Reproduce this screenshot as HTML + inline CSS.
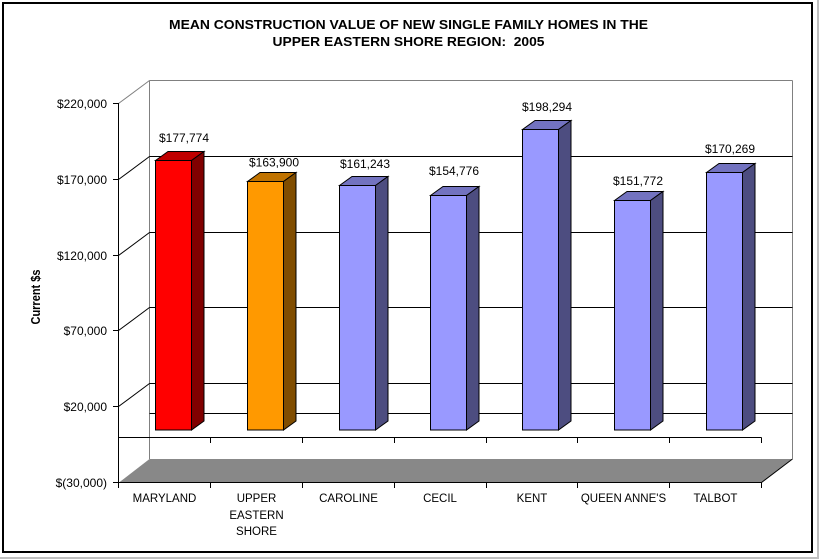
<!DOCTYPE html>
<html>
<head>
<meta charset="utf-8">
<style>
html,body{margin:0;padding:0;background:#fff;}
svg{display:block;}
text{font-family:"Liberation Sans",Arial,sans-serif;fill:#000;}
</style>
</head>
<body>
<svg width="819" height="559" viewBox="0 0 819 559" xmlns="http://www.w3.org/2000/svg">
  <rect x="0" y="0" width="819" height="559" fill="#fff"/>
  <!-- outer frame -->
  <rect x="817" y="0" width="2" height="559" fill="#c0c0c0"/>
  <rect x="0" y="557" width="819" height="2" fill="#c0c0c0"/>
  <rect x="3" y="3" width="809" height="549" fill="none" stroke="#000" stroke-width="2"/>

  <!-- title -->
  <text x="408.5" y="29" font-size="13" font-weight="bold" text-anchor="middle" textLength="479" lengthAdjust="spacingAndGlyphs">MEAN CONSTRUCTION VALUE OF NEW SINGLE FAMILY HOMES IN THE</text>
  <text x="408.5" y="46" font-size="13" font-weight="bold" text-anchor="middle" textLength="272" lengthAdjust="spacingAndGlyphs" xml:space="preserve">UPPER EASTERN SHORE REGION:  2005</text>

  <!-- y axis title -->
  <g transform="translate(35.5,297) rotate(-90)">
    <text x="0" y="4.5" font-size="12.5" font-weight="bold" text-anchor="middle" textLength="55" lengthAdjust="spacingAndGlyphs">Current $s</text>
  </g>

  <!-- floor -->
  <polygon points="119,482.5 149.5,459 792.5,459 761.5,482.5" fill="#888888"/>
  <line x1="761.5" y1="482.5" x2="792.5" y2="459" stroke="#000" stroke-width="1"/>

  <!-- back wall -->
  <g stroke="#808080" stroke-width="1" fill="none">
    <line x1="149.5" y1="80.5" x2="149.5" y2="459"/>
    <line x1="149.5" y1="80.5" x2="792.5" y2="80.5"/>
    <line x1="792.5" y1="80.5" x2="792.5" y2="459"/>
    <line x1="118.5" y1="103.5" x2="149.5" y2="80.5"/>
  </g>
  <!-- gridlines -->
  <g stroke="#000" stroke-width="1">
    <line x1="149.5" y1="156.5" x2="792.5" y2="156.5"/>
    <line x1="149.5" y1="232.5" x2="792.5" y2="232.5"/>
    <line x1="149.5" y1="307.5" x2="792.5" y2="307.5"/>
    <line x1="149.5" y1="383.5" x2="792.5" y2="383.5"/>
    <line x1="149.5" y1="413.5" x2="792.5" y2="413.5"/>
    <line x1="118.5" y1="179.5" x2="149.5" y2="156.5"/>
    <line x1="118.5" y1="255.5" x2="149.5" y2="232.5"/>
    <line x1="118.5" y1="330.5" x2="149.5" y2="307.5"/>
    <line x1="118.5" y1="406.5" x2="149.5" y2="383.5"/>
  </g>

  <!-- y axis -->
  <g stroke="#000" stroke-width="1">
    <line x1="118.5" y1="103" x2="118.5" y2="488"/>
    <line x1="113" y1="103.5" x2="118.5" y2="103.5"/>
    <line x1="113" y1="179.5" x2="118.5" y2="179.5"/>
    <line x1="113" y1="255.5" x2="118.5" y2="255.5"/>
    <line x1="113" y1="330.5" x2="118.5" y2="330.5"/>
    <line x1="113" y1="406.5" x2="118.5" y2="406.5"/>
    <line x1="113" y1="482.5" x2="118.5" y2="482.5"/>
  </g>
  <g font-size="12" text-anchor="end">
    <text x="107" y="107.8">$220,000</text>
    <text x="107" y="183.8">$170,000</text>
    <text x="107" y="259.8">$120,000</text>
    <text x="107" y="334.8">$70,000</text>
    <text x="107" y="410.8">$20,000</text>
    <text x="107" y="486.8">$(30,000)</text>
  </g>

  <!-- category axis lines -->
  <g stroke="#000" stroke-width="1">
    <line x1="118.5" y1="437.5" x2="761.5" y2="437.5"/>
    <line x1="118.5" y1="482.5" x2="761.5" y2="482.5"/>
    <line x1="210.5" y1="437.5" x2="210.5" y2="443"/>
    <line x1="302.5" y1="437.5" x2="302.5" y2="443"/>
    <line x1="394.5" y1="437.5" x2="394.5" y2="443"/>
    <line x1="486.5" y1="437.5" x2="486.5" y2="443"/>
    <line x1="577.5" y1="437.5" x2="577.5" y2="443"/>
    <line x1="669.5" y1="437.5" x2="669.5" y2="443"/>
    <line x1="761.5" y1="437.5" x2="761.5" y2="443"/>
    <line x1="210.5" y1="482.5" x2="210.5" y2="488"/>
    <line x1="302.5" y1="482.5" x2="302.5" y2="488"/>
    <line x1="394.5" y1="482.5" x2="394.5" y2="488"/>
    <line x1="486.5" y1="482.5" x2="486.5" y2="488"/>
    <line x1="577.5" y1="482.5" x2="577.5" y2="488"/>
    <line x1="669.5" y1="482.5" x2="669.5" y2="488"/>
    <line x1="761.5" y1="482.5" x2="761.5" y2="488"/>
  </g>

  <!-- bars -->
  <g stroke="#000" stroke-width="1" stroke-linejoin="miter">
    <!-- Maryland -->
    <polygon points="155.5,160.5 168,151.5 204,151.5 191.5,160.5" fill="#c00000"/>
    <polygon points="191.5,160.5 204,151.5 204,421 191.5,430" fill="#800000"/>
    <rect x="155.5" y="160.5" width="36" height="269.5" fill="#ff0000"/>
    <!-- Upper Eastern Shore -->
    <polygon points="247.5,181.5 260,172.5 296,172.5 283.5,181.5" fill="#c07300"/>
    <polygon points="283.5,181.5 296,172.5 296,421 283.5,430" fill="#804d00"/>
    <rect x="247.5" y="181.5" width="36" height="248.5" fill="#ff9900"/>
    <!-- Caroline -->
    <polygon points="339.5,185.5 352,176.5 388,176.5 375.5,185.5" fill="#7373c0"/>
    <polygon points="375.5,185.5 388,176.5 388,421 375.5,430" fill="#4d4d80"/>
    <rect x="339.5" y="185.5" width="36" height="244.5" fill="#9999ff"/>
    <!-- Cecil -->
    <polygon points="430.5,195.5 443,186.5 479,186.5 466.5,195.5" fill="#7373c0"/>
    <polygon points="466.5,195.5 479,186.5 479,421 466.5,430" fill="#4d4d80"/>
    <rect x="430.5" y="195.5" width="36" height="234.5" fill="#9999ff"/>
    <!-- Kent -->
    <polygon points="522.5,129.5 535,120.5 571,120.5 558.5,129.5" fill="#7373c0"/>
    <polygon points="558.5,129.5 571,120.5 571,421 558.5,430" fill="#4d4d80"/>
    <rect x="522.5" y="129.5" width="36" height="300.5" fill="#9999ff"/>
    <!-- Queen Anne's -->
    <polygon points="614.5,200.5 627,191.5 663,191.5 650.5,200.5" fill="#7373c0"/>
    <polygon points="650.5,200.5 663,191.5 663,421 650.5,430" fill="#4d4d80"/>
    <rect x="614.5" y="200.5" width="36" height="229.5" fill="#9999ff"/>
    <!-- Talbot -->
    <polygon points="706.5,172.5 719,163.5 755,163.5 742.5,172.5" fill="#7373c0"/>
    <polygon points="742.5,172.5 755,163.5 755,421 742.5,430" fill="#4d4d80"/>
    <rect x="706.5" y="172.5" width="36" height="257.5" fill="#9999ff"/>
  </g>

  <!-- data labels -->
  <g font-size="12" text-anchor="middle">
    <text x="184" y="142">$177,774</text>
    <text x="274" y="166.6">$163,900</text>
    <text x="365" y="168">$161,243</text>
    <text x="454" y="175">$154,776</text>
    <text x="547" y="111">$198,294</text>
    <text x="638" y="185">$151,772</text>
    <text x="730" y="153">$170,269</text>
  </g>

  <!-- category labels -->
  <g font-size="11.5" text-anchor="middle">
    <text x="164.5" y="502">MARYLAND</text>
    <text x="256.5" y="502">UPPER</text>
    <text x="256.5" y="519">EASTERN</text>
    <text x="256.5" y="535">SHORE</text>
    <text x="348.5" y="502">CAROLINE</text>
    <text x="440" y="502">CECIL</text>
    <text x="532" y="502">KENT</text>
    <text x="623.5" y="502">QUEEN ANNE'S</text>
    <text x="715.5" y="502">TALBOT</text>
  </g>
</svg>
</body>
</html>
